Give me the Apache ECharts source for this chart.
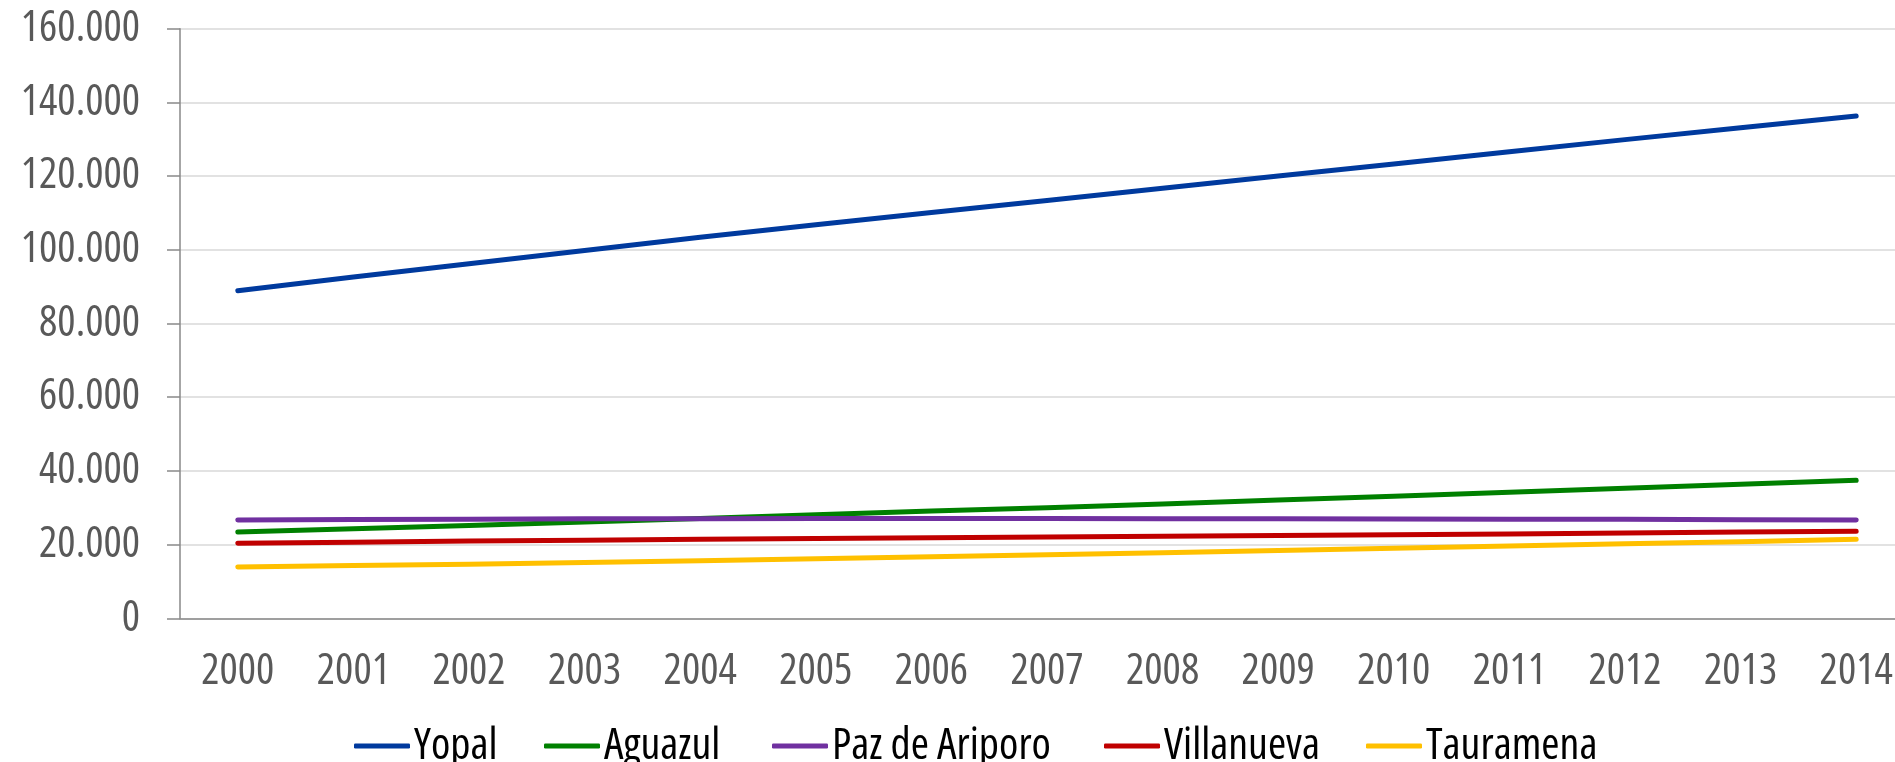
<!DOCTYPE html>
<html><head><meta charset="utf-8">
<script src="https://cdn.jsdelivr.net/npm/echarts@6/dist/echarts.min.js"></script>
<style>html,body{margin:0;padding:0;background:#fff}#c{width:1895px;height:762px}</style>
</head><body><div id="c"></div>
<script>
const years = ['2000','2001','2002','2003','2004','2005','2006','2007','2008','2009','2010','2011','2012','2013','2014'];
const yopal = [88900,92600,96200,99800,103400,106800,110100,113400,116700,120000,123300,126600,129900,133100,136300];
const aguazul = [23400,24300,25200,26100,27100,28100,29100,30000,31000,32100,33100,34200,35300,36400,37450];
const pazDeAriporo = [26700,26800,26900,27000,27000,27050,27050,27050,27000,27000,26950,26900,26850,26750,26700];
const villanueva = [20350,20650,20950,21200,21450,21650,21850,22050,22250,22450,22700,22900,23150,23400,23610];
const tauramena = [13920,14300,14700,15150,15650,16150,16700,17250,17800,18400,19000,19600,20200,20800,21440];
const yTicks = [0,20000,40000,60000,80000,100000,120000,140000,160000];
const legendLefts = [349, 539, 767, 1099, 1361];

// pick a narrow font that is actually installed (reference uses an Arial Narrow-like face)
const cands = [
  {w:'normal', f:'"Liberation Sans Narrow"'},
  {w:'normal', f:'"Arial Narrow"'},
  {w:'condensed', f:'Roboto'},
  {w:'condensed', f:'"Noto Sans"'},
  {w:'condensed', f:'"Open Sans"'}
];
const ctx = document.createElement('canvas').getContext('2d');
let chosen = null;
for (const c of cands) {
  ctx.font = (c.w === 'normal' ? '' : c.w + ' ') + '42px ' + c.f;
  const wd = ctx.measureText('2000').width;
  if (wd < 82) { chosen = {w:c.w, f:c.f, s:1}; break; }
}
if (!chosen) chosen = {w:'normal', f:'"Liberation Sans"', s:0.86};
const FONT = chosen.f + ', "Liberation Sans", sans-serif';
const FW = chosen.w;
const fs = n => Math.round(n * chosen.s);

const fmt = v => String(v).replace(/\B(?=(\d{3})+(?!\d))/g, '.');
const seriesDefs = [
  ['Yopal', yopal, '#003A9E'],
  ['Aguazul', aguazul, '#008000'],
  ['Paz de Ariporo', pazDeAriporo, '#7030A0'],
  ['Villanueva', villanueva, '#C00000'],
  ['Tauramena', tauramena, '#FFC000']
];
const chart = echarts.init(document.getElementById('c'), null, {renderer:'canvas'});
chart.setOption({
  animation:false,
  backgroundColor:'#fff',
  grid:{left:180, top:28.7, width:1734, height:589.6, containLabel:false, outerBoundsMode:'none'},
  legend: seriesDefs.map((s, i) => ({
    left:legendLefts[i], top:719, itemWidth:56, itemHeight:5, icon:'roundRect',
    textStyle:{fontFamily:FONT, fontWeight:FW, fontSize:fs(44), color:'#000', padding:[0,0,0,-1]},
    data:[s[0]]
  })),
  xAxis:{
    type:'category', data:years, boundaryGap:true,
    axisLine:{lineStyle:{color:'#898989', width:1.5}},
    axisTick:{inside:true, length:12, lineStyle:{color:'#898989', width:1.5}},
    axisLabel:{interval:0, color:'#595959', fontFamily:FONT, fontWeight:FW, fontSize:fs(43), margin:32}
  },
  yAxis:{
    type:'value', min:0, max:160000, interval:20000,
    axisLine:{show:true, lineStyle:{color:'#898989', width:1.5}},
    axisTick:{show:true, length:13, lineStyle:{color:'#898989', width:1.5}},
    splitLine:{lineStyle:{color:'#D9D9D9', width:1.5}},
    axisLabel:{color:'#595959', fontFamily:FONT, fontWeight:FW, fontSize:fs(43), margin:40,
      formatter: v => yTicks.includes(v) ? fmt(v) : ''}
  },
  series: seriesDefs.map(([name,data,color])=>({
    name, type:'line', data, symbol:'none', smooth:false,
    itemStyle:{color},
    lineStyle:{color, width:5, cap:'round', join:'round'}
  }))
});
</script></body></html>
